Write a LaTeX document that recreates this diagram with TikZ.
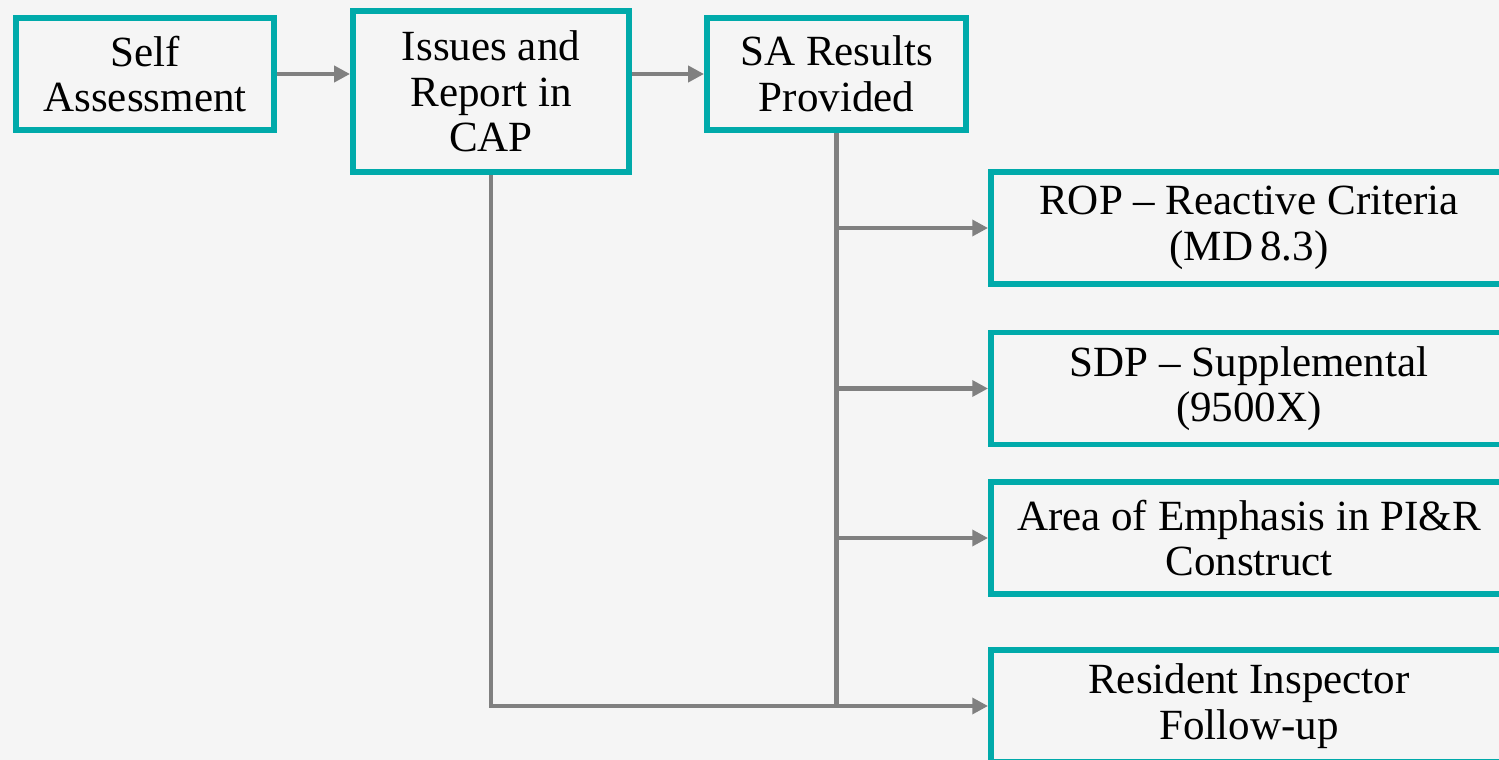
\documentclass[tikz,border=0pt]{standalone}
\usepackage{fontspec}
\setmainfont{Liberation Serif}
\usetikzlibrary{arrows.meta}

\definecolor{boxteal}{HTML}{00AAAA}
\definecolor{linegray}{HTML}{808080}
\definecolor{pagebg}{HTML}{F5F5F5}

\begin{document}
\begin{tikzpicture}[
		x = 0.02cm, y = -0.02cm, % one unit per pixel
		> = {Triangle[length=9pt, width=9pt]}, % arrow head style
		line width = 2.6pt, % line style
		draw = linegray
		]
		
		\tikzstyle{stage}=[
		draw = boxteal,
		line width = 3.4pt,
		fill = pagebg,
		rectangle,
		align = center,
		inner sep = 0pt,
		minimum height = 2.24cm,
		font = \fontsize{24.5}{26}\selectfont
		]
		\tikzstyle{outcome}=[stage, minimum width = 10.32cm]
		
		\useasboundingbox[fill = pagebg] (0,0) rectangle (1499,760);
		
		\node[stage, minimum width = 5.16cm] (self_ass) at (145,74) {Self\\Assessment};
		\node[stage, minimum width = 5.52cm, minimum height = 3.22cm] (issues_cap) at (491,91.5) {Issues and\\Report in\\CAP};
		\node[stage, minimum width = 5.18cm] (sa_res) at (836.5,74) {SA Results\\Provided};
		\node[outcome] (rop_crit) at (1249,228) {ROP -- Reactive Criteria\\(MD\,8.3)};
		\node[outcome] (sdp_supp) at (1249,388.5) {SDP -- Supplemental\\(9500X)};
		\node[outcome] (aoe_pir) at (1249,538) {Area of Emphasis in PI\&R\\Construct};
		\node[outcome] (ri_follow) at (1249,706) {Resident Inspector\\Follow-up};
		
		\draw[->, linegray] (self_ass.east) -- (self_ass.east -| issues_cap.west);
		\draw[->, linegray] (issues_cap.east |- sa_res.west) -- (sa_res.west);
		\draw[linegray] (sa_res.south) -- (sa_res.south |- ri_follow.west);
		\draw[->, linegray] (sa_res.south |- rop_crit.west) -- (rop_crit.west);
		\draw[->, linegray] (sa_res.south |- sdp_supp.west) -- (sdp_supp.west);
		\draw[->, linegray] (sa_res.south |- aoe_pir.west) -- (aoe_pir.west);
		\draw[->, linegray] (sa_res.south |- ri_follow.west) -- (ri_follow.west);
		\draw[linegray] (issues_cap.south) |- (sa_res.south |- ri_follow.west);
		\end{tikzpicture}
\end{document}
